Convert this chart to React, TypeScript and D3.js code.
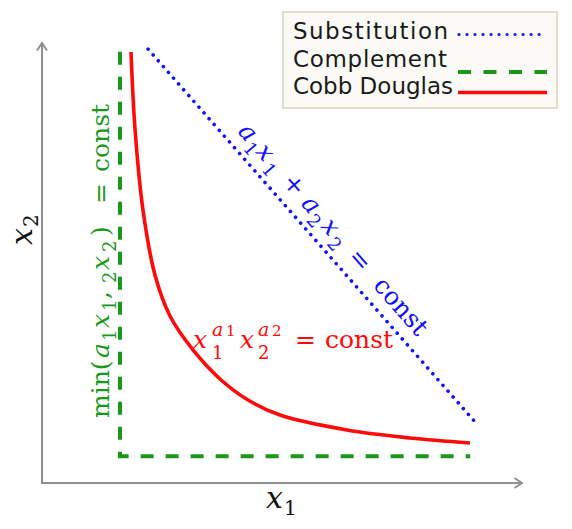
import React from 'react';
import * as d3 from 'd3';

const W = 572;
const H = 529;

// Abstract quantity space (x1, x2 in 0..100)
const substitutionX = [22.1, 90.6];
const substitutionY = [98.6, 13.4];
const complementX = [16.25, 16.25, 89.2];
const complementY = [98.0, 6.1, 6.1];
const cobbX = [18.54, 19.38, 21.04, 23.54, 26.67, 31.46, 37.08, 42.92, 49.58, 63.54, 76.67, 89.17];
const cobbY = [97.95, 80.45, 62.05, 47.27, 37.95, 30.23, 23.64, 18.86, 15.45, 12.05, 10.23, 9.09];

const legendLabels = ['Substitution', 'Complement', 'Cobb Douglas'];

const BLUE = '#1010ff';
const GREEN = '#1a981a';
const RED = '#ff0a0a';
const AXIS = '#8f8f8f';
const MATH = 'DejaVu Serif, serif';

type Piece = { t: string; x: number; y: number; s: number; i?: boolean };

const Pieces = ({ items, transform, fill }: { items: Piece[]; transform: string; fill: string }) => (
  <g transform={transform} fill={fill} fontFamily={MATH}>
    {items.map((p, k) => (
      <text key={k} x={p.x} y={p.y} fontSize={p.s} fontStyle={p.i ? 'italic' : 'normal'}>
        {p.t}
      </text>
    ))}
  </g>
);

const redLabel: Piece[] = [
  { t: 'x', x: 0, y: 0, s: 25, i: true },
  { t: '1', x: 19, y: 11, s: 18 },
  { t: 'a', x: 19, y: -12, s: 19, i: true },
  { t: '1', x: 33, y: -12, s: 15 },
  { t: 'x', x: 47, y: 0, s: 25, i: true },
  { t: '2', x: 65, y: 11, s: 18 },
  { t: 'a', x: 65, y: -12, s: 19, i: true },
  { t: '2', x: 79, y: -12, s: 15 },
  { t: '=', x: 102, y: 0, s: 25 },
  { t: 'const', x: 132, y: 0, s: 25 },
];

const greenLabel: Piece[] = [
  { t: 'min(', x: 0, y: 0, s: 25 },
  { t: 'a', x: 60, y: 0, s: 25, i: true },
  { t: '1', x: 77, y: 7, s: 18 },
  { t: 'x', x: 90, y: 0, s: 25, i: true },
  { t: '1', x: 107, y: 7, s: 18 },
  { t: ',', x: 119, y: 0, s: 25 },
  { t: '2', x: 135, y: 7, s: 18 },
  { t: 'x', x: 148, y: 0, s: 25, i: true },
  { t: '2', x: 166, y: 7, s: 18 },
  { t: ')', x: 182, y: 0, s: 25 },
  { t: '=', x: 214, y: 0, s: 25 },
  { t: 'const', x: 246, y: 0, s: 25 },
];

const blueLabel: Piece[] = [
  { t: 'a', x: 0, y: 0, s: 25, i: true },
  { t: '1', x: 16, y: 7, s: 18 },
  { t: 'x', x: 27, y: 0, s: 25, i: true },
  { t: '1', x: 44, y: 7, s: 18 },
  { t: '+', x: 67, y: 0, s: 25 },
  { t: 'a', x: 96, y: 0, s: 25, i: true },
  { t: '2', x: 112, y: 7, s: 18 },
  { t: 'x', x: 126, y: 0, s: 25, i: true },
  { t: '2', x: 143, y: 7, s: 18 },
  { t: '=', x: 167, y: 0, s: 25 },
  { t: 'const', x: 205, y: 0, s: 25 },
];

export default function App() {
  const x = d3.scaleLinear().domain([0, 100]).range([42, 522]);
  const y = d3.scaleLinear().domain([0, 100]).range([483, 43]);

  const line = d3
    .line<[number, number]>()
    .x((d) => x(d[0]))
    .y((d) => y(d[1]));
  const smooth = d3
    .line<[number, number]>()
    .x((d) => x(d[0]))
    .y((d) => y(d[1]))
    .curve(d3.curveCatmullRom.alpha(0.5));

  const sub = substitutionX.map((v, i) => [v, substitutionY[i]] as [number, number]);
  const comp = complementX.map((v, i) => [v, complementY[i]] as [number, number]);
  const cobb = cobbX.map((v, i) => [v, cobbY[i]] as [number, number]);

  const [x0, x1] = x.range();
  const [y0, y1] = y.range();

  const sx = sub[0], ex = sub[1];
  const ang = (Math.atan2(y(ex[1]) - y(sx[1]), x(ex[0]) - x(sx[0])) * 180) / Math.PI;

  const legendY = [34.5, 72, 92.5];
  const legendBase = [39, 67, 94];
  const legendLen = [155, 154, 160];

  return (
    <svg width={W} height={H} style={{ position: 'absolute', left: 0, top: 0 }}>
      <rect width={W} height={H} fill="#ffffff" />
      {/* axes */}
      <g stroke={AXIS} strokeWidth={2} fill="none" strokeLinecap="round" strokeLinejoin="round">
        <line x1={x0} y1={y0} x2={x0} y2={y1} />
        <line x1={x0} y1={y0} x2={x1} y2={y0} />
        <polyline points={`${x0 - 4.5},${y1 + 6.8} ${x0},${y1} ${x0 + 4.5},${y1 + 6.8}`} />
        <polyline points={`${x1 - 6.8},${y0 - 4.5} ${x1},${y0} ${x1 - 6.8},${y0 + 4.5}`} />
      </g>

      {/* curves */}
      <path d={line(comp) || ''} fill="none" stroke={GREEN} strokeWidth={4} strokeDasharray="13 12" />
      <path d={smooth(cobb) || ''} fill="none" stroke={RED} strokeWidth={3.6} />
      <path
        d={line(sub) || ''}
        fill="none"
        stroke={BLUE}
        strokeWidth={3.6}
        strokeDasharray="0.01 7.7"
        strokeLinecap="round"
      />

      {/* labels */}
      <Pieces items={redLabel} transform="translate(193,348)" fill={RED} />
      <Pieces items={greenLabel} transform="translate(109,418) rotate(-90)" fill={GREEN} />
      <Pieces items={blueLabel} transform={`translate(237,132) rotate(${ang})`} fill={BLUE} />

      {/* axis titles */}
      <g fontFamily={MATH} fill="#111">
        <text x={266} y={508} fontSize={30} fontStyle="italic">x</text>
        <text x={284} y={515} fontSize={20}>1</text>
        <g transform="translate(32,245) rotate(-90)">
          <text x={0} y={0} fontSize={30} fontStyle="italic">x</text>
          <text x={18} y={6} fontSize={20}>2</text>
        </g>
      </g>

      {/* legend */}
      <rect x={283} y={12} width={274} height={96} fill="#fbfaf6" stroke="#d9d3bd" strokeWidth={1.5} />
      {legendLabels.map((lab, i) => (
        <text
          key={lab}
          x={293}
          y={legendBase[i]}
          fontFamily="DejaVu Sans, sans-serif"
          fontSize={23}
          fill="#1a1a1a"
          textLength={legendLen[i]}
        >
          {lab}
        </text>
      ))}
      <line x1={459} x2={547} y1={legendY[0]} y2={legendY[0]} stroke={BLUE} strokeWidth={3.2} strokeDasharray="0.01 8" strokeLinecap="round" />
      <line x1={458} x2={547} y1={legendY[1]} y2={legendY[1]} stroke={GREEN} strokeWidth={4} strokeDasharray="13 12.5" />
      <line x1={458} x2={547} y1={legendY[2]} y2={legendY[2]} stroke={RED} strokeWidth={3.6} />
    </svg>
  );
}
